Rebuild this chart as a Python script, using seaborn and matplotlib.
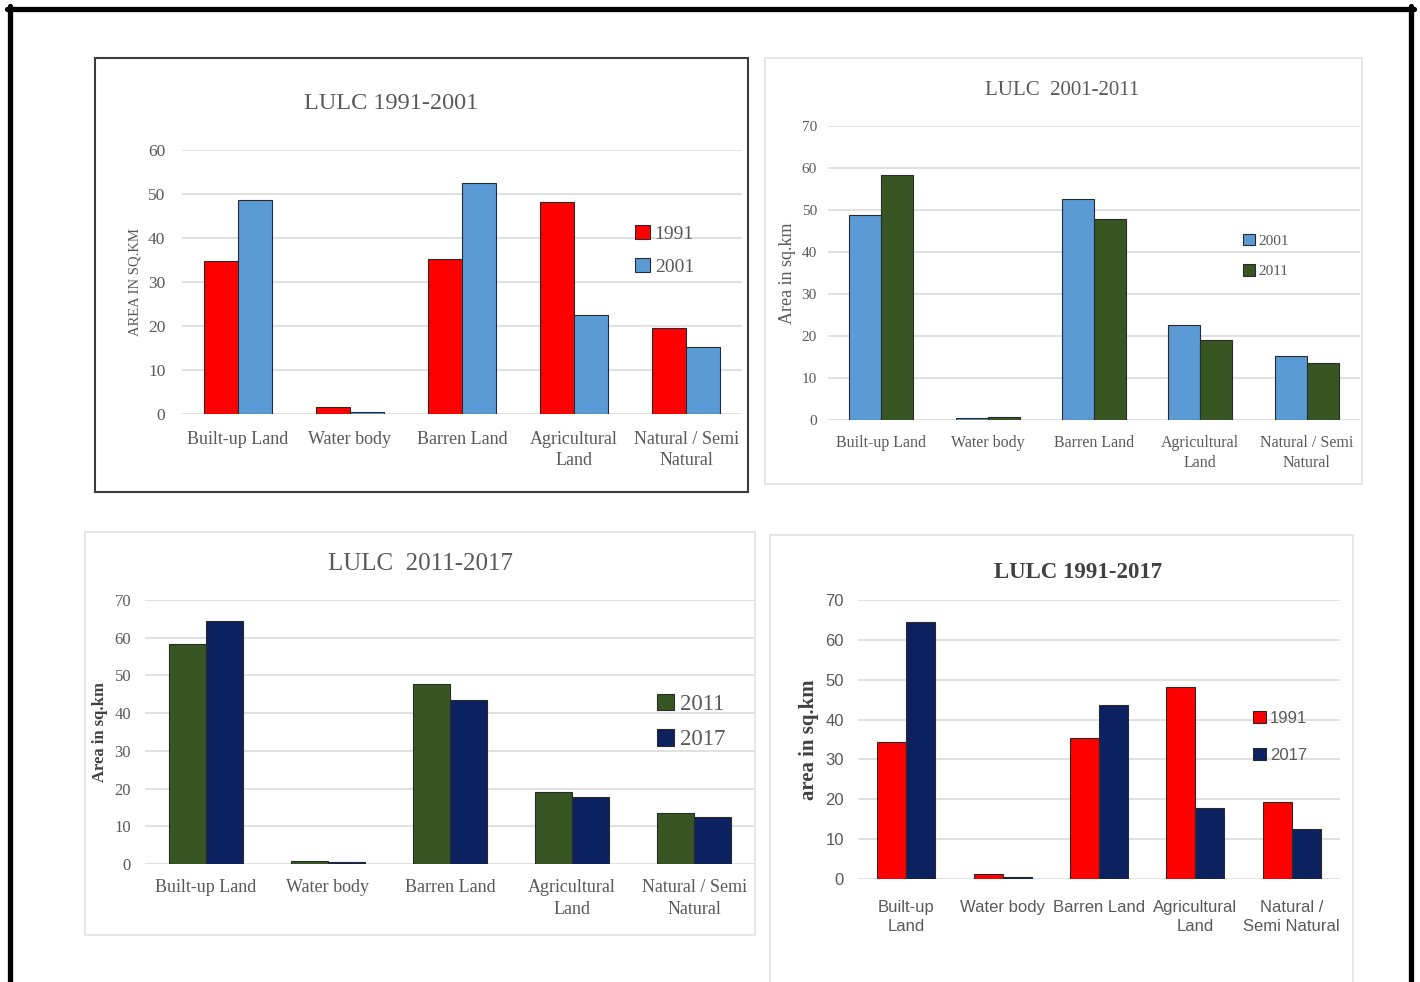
import numpy as np
import pandas as pd
import matplotlib
matplotlib.use("Agg")
import matplotlib.pyplot as plt
from matplotlib.patches import Rectangle
from matplotlib.lines import Line2D
import seaborn as sns


# categorie (etichette asse x)
categorie = ["Built-up Land", "Water body", "Barren Land", "Agricultural\nLand", "Natural / Semi\nNatural"]
categorie_p4 = ["Built-up\nLand", "Water body", "Barren Land", "Agricultural\nLand", "Natural /\nSemi Natural"]

# valori (sq.km)
area_1991 = [34.7, 1.5, 35.2, 48.2, 19.6]
area_2001 = [48.7, 0.4, 52.6, 22.6, 15.2]
area_2011 = [58.3, 0.8, 47.8, 19.0, 13.6]
area_2017 = [64.5, 0.5, 43.6, 17.8, 12.4]
area_1991_p4 = [34.3, 1.2, 35.3, 48.1, 19.4]
area_2017_p4 = [64.4, 0.4, 43.6, 17.8, 12.6]

rosso = "#FF0000"
azzurro = "#5B9BD5"
verde = "#375623"
blu = "#0C2160"

W, H = 1420, 982

sns.set_theme(style="white")
plt.rcParams["font.family"] = ["Liberation Serif", "DejaVu Serif"]


def box_ax(fig, x0, y0, x1, y1):
    return fig.add_axes([x0 / W, 1 - y1 / H, (x1 - x0) / W, (y1 - y0) / H])


def cornice(fig, x0, y0, x1, y1, colore, lw):
    fig.add_artist(Rectangle((x0 / W, 1 - y1 / H), (x1 - x0) / W, (y1 - y0) / H,
                             transform=fig.transFigure, fill=False,
                             edgecolor=colore, linewidth=lw, zorder=0))


def pannello(ax, cats, anni, valori, colori, ymax, titolo, titolo_xy, titolo_kw,
             ylabel, ylabel_x, ylabel_kw, font, xsize, ysize, xpad, ypad,
             leg_xy, leg_size, leg_spacing):
    righe = []
    for anno, vals in zip(anni, valori):
        for c, v in zip(cats, vals):
            righe.append({"cat": c, "anno": anno, "area": v})
    df = pd.DataFrame(righe)

    sns.barplot(data=df, x="cat", y="area", hue="anno", palette=colori, saturation=1,
                width=0.6, edgecolor="#2a2a2a", linewidth=0.8, ax=ax, zorder=3)

    ax.set_ylim(0, ymax)
    ax.set_xlim(-0.5, len(cats) - 0.5)
    ax.set_yticks(np.arange(0, ymax + 1, 10))
    ax.yaxis.grid(True, color="#dcdcdc", linewidth=1.2, zorder=0)
    ax.set_axisbelow(True)
    for s in ax.spines.values():
        s.set_visible(False)
    ax.set_facecolor("none")
    ax.tick_params(axis="both", length=0)
    ax.tick_params(axis="x", pad=xpad, labelsize=xsize, labelcolor="#595959")
    ax.tick_params(axis="y", pad=ypad, labelsize=ysize, labelcolor="#595959")
    for lab in ax.get_xticklabels() + ax.get_yticklabels():
        lab.set_family(font)
    for lab in ax.get_xticklabels():
        lab.set_linespacing(1.35)
    ax.set_xlabel("")
    ax.set_ylabel(ylabel, family=["Liberation Serif"], **ylabel_kw)
    ax.yaxis.set_label_coords(ylabel_x, 0.5)

    ax.set_title(titolo, x=titolo_xy[0], y=titolo_xy[1], va="center", pad=0,
                 family=["Liberation Serif"], **titolo_kw)

    ax.legend(loc="center left", bbox_to_anchor=leg_xy, frameon=False, borderpad=0,
              handlelength=0.75, handleheight=0.75, handletextpad=0.25,
              labelspacing=leg_spacing, prop={"family": font, "size": leg_size},
              labelcolor="#595959")


fig = plt.figure(figsize=(W / 100, H / 100), dpi=100)
fig.patch.set_facecolor("white")

# bordo nero esterno
fig.add_artist(Line2D([7 / W, 1414 / W], [1 - 8.5 / H, 1 - 8.5 / H], color="black", linewidth=3.8, transform=fig.transFigure))
fig.add_artist(Line2D([9.5 / W, 9.5 / W], [1 - 6 / H, 0], color="black", linewidth=3.8, transform=fig.transFigure))
fig.add_artist(Line2D([1411 / W, 1411 / W], [1 - 6 / H, 0], color="black", linewidth=3.8, transform=fig.transFigure))

# cornici dei pannelli
cornice(fig, 95, 58, 748, 492, "#3c3c3c", 1.5)
cornice(fig, 765, 58, 1362, 484, "#e2e2e2", 1.2)
cornice(fig, 85, 532, 755, 935, "#e2e2e2", 1.2)
cornice(fig, 770, 535, 1353, 990, "#e2e2e2", 1.2)

serif = ["Liberation Serif", "DejaVu Serif"]
sans = ["Liberation Sans", "DejaVu Sans"]

ax1 = box_ax(fig, 182, 150, 742, 414)
pannello(ax1, categorie, ["1991", "2001"], [area_1991, area_2001], [rosso, azzurro], 60,
         "LULC 1991-2001", (0.373, 1.178), {"fontsize": 17.5, "color": "#595959"},
         "AREA IN SQ.KM", -0.073, {"fontsize": 10.5, "color": "#595959"},
         serif, 13, 12.5, 12, 12, (0.792, 0.62), 14, 0.75)

ax2 = box_ax(fig, 828, 126, 1360, 420)
pannello(ax2, categorie, ["2001", "2011"], [area_2001, area_2011], [azzurro, verde], 70,
         "LULC  2001-2011", (0.44, 1.122), {"fontsize": 15, "color": "#595959"},
         "Area in sq.km", -0.06, {"fontsize": 13, "color": "#595959"},
         serif, 11.5, 11, 11, 8, (0.766, 0.558), 11, 1.1)

ax3 = box_ax(fig, 145, 600, 755, 864)
pannello(ax3, categorie, ["2011", "2017"], [area_2011, area_2017], [verde, blu], 70,
         "LULC  2011-2017", (0.451, 1.136), {"fontsize": 18, "color": "#595959"},
         "Area in sq.km", -0.061, {"fontsize": 12, "color": "#404040", "fontweight": "bold"},
         serif, 13, 12, 11, 10, (0.821, 0.538), 16.5, 0.6)

ax4 = box_ax(fig, 858, 600, 1340, 879)
pannello(ax4, categorie_p4, ["1991", "2017"], [area_1991_p4, area_2017_p4], [rosso, blu], 70,
         "LULC 1991-2017", (0.456, 1.097), {"fontsize": 16.5, "color": "#404040", "fontweight": "bold"},
         "area in sq.km", -0.081, {"fontsize": 15, "color": "#404040", "fontweight": "bold"},
         sans, 12, 12, 15, 10, (0.803, 0.509), 12, 1.3)

fig.savefig("out.png", dpi=100, facecolor="white")
